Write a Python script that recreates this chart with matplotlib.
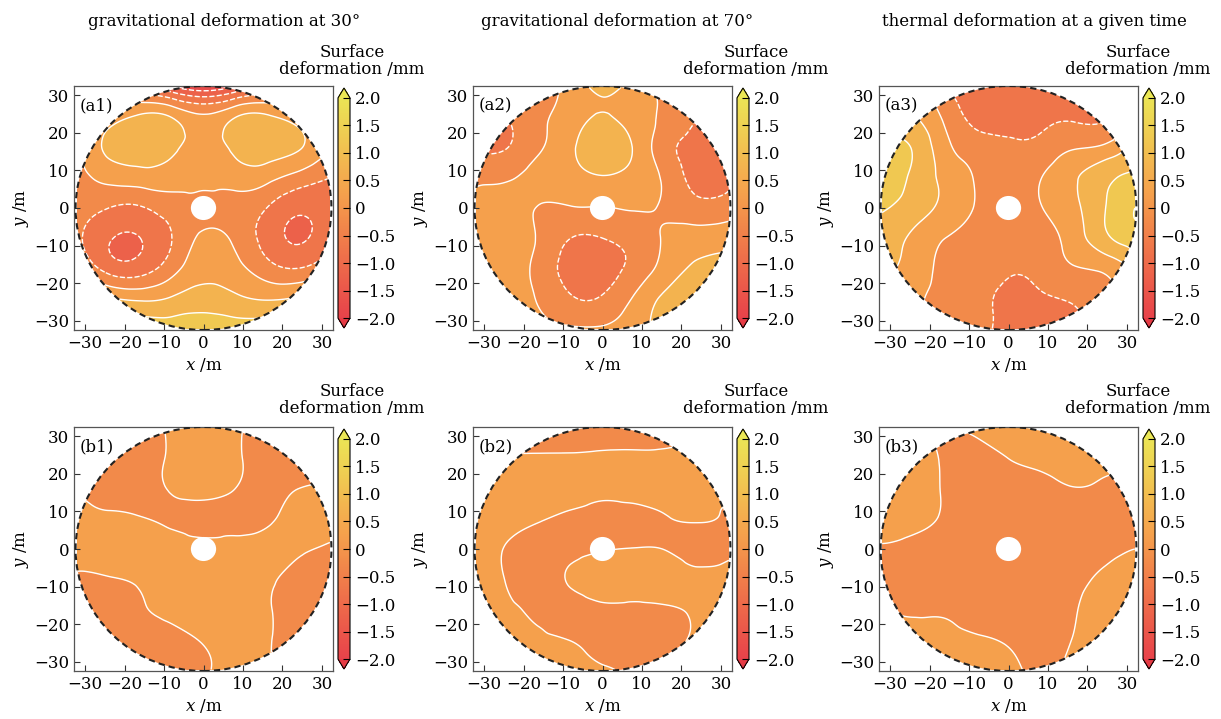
import numpy as np
import matplotlib
matplotlib.use("Agg")
import matplotlib.pyplot as plt
import matplotlib.tri as mtri
from matplotlib.colors import LinearSegmentedColormap, Normalize
from matplotlib.cm import ScalarMappable
from matplotlib.patches import Circle

plt.rcParams['font.family'] = 'DejaVu Serif'
plt.rcParams['mathtext.fontset'] = 'dejavuserif'
plt.rcParams['font.size'] = 12

grid_x = [-32, -24, -16, -8, 0, 8, 16, 24, 32]
grid_y = [32, 24, 16, 8, 0, -8, -16, -24, -32]

# surface deformation (mm), rows follow grid_y, columns follow grid_x
a1 = [[-0.5, -0.6, -0.9, -1.4, -1.8, -1.4, -0.9, -0.6, -0.5],
      [-0.3, 0.3, 0.6, 0.5, 0.1, 0.5, 0.6, 0.3, -0.3],
      [-0.1, 0.6, 0.8, 0.65, 0.2, 0.65, 0.8, 0.55, 0.0],
      [-0.2, 0.15, 0.25, 0.2, 0.1, 0.2, 0.15, -0.2, -0.5],
      [-0.3, -0.5, -0.55, -0.25, -0.15, -0.2, -0.5, -0.9, -0.7],
      [-0.4, -0.95, -1.0, -0.5, 0.1, -0.1, -0.7, -1.05, -0.7],
      [0.0, -0.7, -0.75, -0.2, 0.3, 0.15, -0.3, -0.5, -0.1],
      [0.8, 0.55, 0.4, 0.55, 0.75, 0.6, 0.45, 0.55, 0.8],
      [1.5, 1.4, 1.3, 1.25, 1.25, 1.25, 1.3, 1.4, 1.5]]

a2 = [[-0.3, -0.3, -0.2, 0.2, 0.6, 0.3, -0.1, -0.3, -0.4],
      [-0.6, -0.5, -0.1, 0.25, 0.55, 0.25, -0.1, -0.5, -0.6],
      [-0.6, -0.5, -0.05, 0.4, 0.85, 0.45, -0.3, -0.7, -0.6],
      [-0.1, -0.05, 0.15, 0.3, 0.45, 0.3, -0.1, -0.7, -0.6],
      [0.1, 0.15, -0.02, -0.03, -0.02, 0.03, -0.05, -0.3, -0.25],
      [0.2, 0.15, -0.05, -0.5, -0.5, -0.3, 0.05, 0.2, 0.3],
      [0.3, 0.2, -0.15, -0.7, -0.7, -0.35, 0.2, 0.6, 0.7],
      [0.3, 0.2, -0.05, -0.45, -0.45, 0.05, 0.6, 0.8, 0.9],
      [0.3, 0.3, 0.1, 0.05, 0.05, 0.3, 0.7, 0.9, 1.0]]

a3 = [[0.4, 0.2, -0.5, -0.8, -0.9, -0.8, -0.7, -0.5, -0.2],
      [0.7, 0.55, -0.1, -0.65, -0.7, -0.6, -0.55, -0.55, -0.1],
      [1.1, 0.95, 0.15, -0.25, -0.4, -0.35, -0.05, 0.1, 0.7],
      [1.3, 0.9, 0.35, -0.05, -0.3, -0.02, 0.4, 0.85, 1.1],
      [1.05, 0.75, 0.35, -0.05, -0.3, -0.03, 0.35, 0.95, 1.5],
      [0.8, 0.4, 0.0, -0.2, -0.35, -0.2, 0.2, 0.85, 1.25],
      [0.6, 0.3, -0.15, -0.3, -0.45, -0.35, -0.05, 0.1, 0.6],
      [0.4, 0.1, -0.15, -0.35, -0.6, -0.55, -0.45, -0.2, 0.2],
      [0.3, 0.1, -0.15, -0.3, -0.7, -0.7, -0.6, -0.4, -0.1]]

b1 = [[-0.2, -0.2, -0.15, 0.05, 0.15, 0.05, -0.15, -0.2, -0.2],
      [-0.2, -0.2, -0.15, 0.05, 0.15, 0.05, -0.15, -0.2, -0.15],
      [-0.03, -0.1, -0.1, 0.03, 0.1, 0.0, -0.1, 0.0, 0.05],
      [0.1, 0.05, 0.02, -0.05, -0.1, -0.1, -0.05, 0.1, 0.15],
      [0.1, 0.15, 0.2, 0.15, 0.1, 0.1, 0.1, 0.05, -0.05],
      [-0.05, -0.02, 0.05, 0.2, 0.2, 0.15, 0.05, -0.1, -0.15],
      [-0.2, -0.15, -0.03, 0.1, 0.2, 0.15, 0.02, -0.1, -0.2],
      [-0.2, -0.2, -0.15, -0.1, 0.03, 0.1, 0.02, -0.1, -0.2],
      [-0.2, -0.2, -0.2, -0.15, -0.03, 0.05, 0.02, -0.1, -0.2]]

b2 = [[-0.15, -0.15, -0.15, -0.15, -0.15, -0.15, -0.15, -0.15, -0.15],
      [0.05, 0.03, 0.03, 0.03, 0.04, 0.05, 0.06, 0.08, 0.05],
      [0.15, 0.15, 0.12, 0.08, 0.05, 0.08, 0.1, 0.05, 0.05],
      [0.2, 0.1, 0.02, -0.05, -0.08, -0.08, -0.02, 0.02, -0.05],
      [0.1, -0.02, -0.1, -0.08, -0.02, 0.01, -0.01, -0.1, -0.03],
      [0.15, -0.02, -0.1, 0.03, 0.15, 0.15, 0.15, 0.08, 0.05],
      [0.15, 0.05, -0.05, -0.1, -0.06, -0.06, -0.03, 0.05, 0.1],
      [0.15, 0.15, 0.05, -0.01, -0.1, -0.1, -0.05, 0.03, 0.1],
      [0.15, 0.15, 0.15, 0.08, 0.02, -0.03, -0.05, 0.05, 0.1]]

b3 = [[0.1, 0.05, -0.05, 0.05, 0.1, 0.08, 0.1, 0.1, 0.1],
      [0.15, 0.1, -0.03, -0.08, 0.0, 0.05, 0.08, 0.05, 0.05],
      [0.15, 0.08, -0.02, -0.12, -0.12, -0.08, -0.01, -0.03, -0.05],
      [0.1, 0.05, -0.03, -0.15, -0.18, -0.15, -0.12, -0.08, -0.03],
      [-0.02, -0.05, -0.1, -0.15, -0.2, -0.15, -0.1, -0.05, 0.0],
      [-0.05, -0.08, -0.12, -0.15, -0.18, -0.12, -0.05, 0.03, 0.1],
      [0.0, -0.03, -0.03, -0.1, -0.12, -0.08, -0.02, 0.08, 0.1],
      [0.1, 0.08, 0.05, 0.02, -0.02, -0.05, 0.0, 0.1, 0.1],
      [0.1, 0.1, 0.1, 0.08, 0.03, -0.02, 0.03, 0.1, 0.1]]

fields = [a1, a2, a3, b1, b2, b3]
panel_names = ['(a1)', '(a2)', '(a3)', '(b1)', '(b2)', '(b3)']
titles = ['gravitational deformation at 30°', 'gravitational deformation at 70°',
          'thermal deformation at a given time']
levels = [-2.0, -1.5, -1.0, -0.5, 0.0, 0.5, 1.0, 1.5, 2.0]
level_labels = ['\u22122.0', '\u22121.5', '\u22121.0', '\u22120.5', '0', '0.5', '1.0', '1.5', '2.0']
ticks = [-30, -20, -10, 0, 10, 20, 30]

R = 32.4
r_hole = 3.2

cmap = LinearSegmentedColormap.from_list('defo', [
    (0.0, '#e8424a'), (0.3125, '#ef754a'), (0.4375, '#f28a4a'), (0.5625, '#f5a04c'),
    (0.6875, '#f3b34f'), (0.8125, '#f0c851'), (1.0, '#ebe455')])
cmap.set_under('#e63a44')
cmap.set_over('#ece854')

W, H = 1221, 719
fig = plt.figure(figsize=(W / 100, H / 100), dpi=100)

col_left = [74, 473, 879]
row_top = [86, 427]
aw, ah = 259, 244
title_x = [224, 617, 1034]
label_x = [352, 756, 1138]
label_y = [61, 400]

X, Y = np.meshgrid(grid_x, grid_y)
tri = mtri.Triangulation(X.ravel(), Y.ravel())
refiner = mtri.UniformTriRefiner(tri)

for i, z in enumerate(fields):
    row, col = divmod(i, 3)
    l, t = col_left[col], row_top[row]
    ax = fig.add_axes([l / W, 1 - (t + ah) / H, aw / W, ah / H])
    cax = fig.add_axes([(l + aw + 5) / W, 1 - (t + ah - 2) / H, 12 / W, (ah - 4) / H])
    norm = Normalize(-2, 2)

    zz = np.asarray(z, float).ravel()
    interp = mtri.CubicTriInterpolator(tri, zz, kind='min_E')
    tri_f, z_f = refiner.refine_field(zz, triinterpolator=interp, subdiv=5)
    cs = ax.tricontourf(tri_f, z_f, levels=levels, cmap=cmap, norm=norm, extend='both')
    cl = ax.tricontour(tri_f, z_f, levels=levels, colors='white', linewidths=1.0)
    clip = Circle((0, 0), R, transform=ax.transData)
    cs.set_clip_path(clip)
    cl.set_clip_path(clip)
    ax.add_patch(Circle((0, 0), r_hole, facecolor='white', edgecolor='none', zorder=3))
    ax.add_patch(Circle((0, 0), R, fill=False, edgecolor='#222222', lw=1.5,
                        ls=(0, (3, 2)), zorder=4))

    ax.set_xlim(-32.8, 32.8)
    ax.set_ylim(-32.4, 32.4)
    ax.set_xticks(ticks)
    ax.set_yticks(ticks)
    ax.tick_params(direction='in', length=4, labelsize=12, color='#333333')
    for s in ax.spines.values():
        s.set_color('#555555')
        s.set_linewidth(0.9)
    ax.set_xlabel('$x$ /m', fontsize=12, labelpad=3)
    ax.set_ylabel('$y$ /m', fontsize=12, labelpad=2)
    ax.text(0.02, 0.92, panel_names[i], transform=ax.transAxes, fontsize=12,
            va='center', ha='left', zorder=5)

    sm = ScalarMappable(norm=Normalize(-2, 2), cmap=cmap)
    cb = fig.colorbar(sm, cax=cax, extend='both', extendfrac=0.045)
    cb.set_ticks(levels, labels=level_labels)
    cb.ax.tick_params(direction='in', length=5, labelsize=12, width=0.8)
    cb.outline.set_linewidth(0.8)

    fig.text(label_x[col] / W, 1 - label_y[row] / H, 'Surface\ndeformation /mm',
             ha='center', va='center', fontsize=12, linespacing=1.0)

for col in range(3):
    fig.text(title_x[col] / W, 1 - 22 / H, titles[col], ha='center', va='center', fontsize=12)

fig.savefig('out.png', dpi=100)
